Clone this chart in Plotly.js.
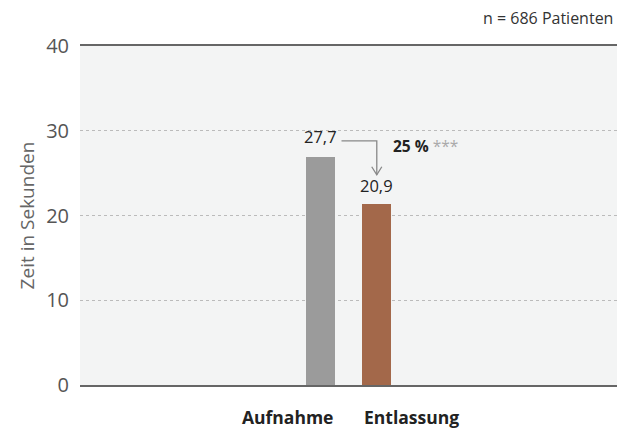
<!DOCTYPE html>
<html><head><meta charset="utf-8">
<script src="https://cdn.plot.ly/plotly-3.0.1.min.js"></script>
<style>html,body{margin:0;padding:0;background:#fff}#c{width:617px;height:430px}</style>
</head><body><div id="c"></div>
<script>
const categories = ["Aufnahme", "Entlassung"];
const barValues = [26.9, 21.4];
const valueLabels = ["27,7", "20,9"];
const barColors = ["#9b9b9b", "#a3684a"];
const changeLabel = "25 %";
const significance = "***";
const noteText = "n = 686 Patienten";
const yTicks = [0, 10, 20, 30, 40];

const xs = [1, 2];
const bw = 0.52;
const font = "Open Sans, sans-serif";

const trace = {
  type: "bar", x: xs, y: barValues, width: bw,
  marker: {color: barColors}, hoverinfo: "skip"
};

const annotations = [];
valueLabels.forEach((t, i) => annotations.push({
  x: xs[i], y: barValues[i], xref: "x", yref: "y", text: t, showarrow: false,
  yanchor: "bottom", yshift: i === 0 ? 7 : 5, font: {family: font, size: 16.5, color: "#222"}
}));
annotations.push({x: xs[0] + bw/2, y: 0, xref: "x", yref: "y", text: "<b>" + categories[0] + "</b>",
  showarrow: false, xanchor: "right", yanchor: "top", yshift: -18, font: {family: font, size: 17.5, color: "#222"}});
annotations.push({x: xs[1] - bw/2, y: 0, xref: "x", yref: "y", text: "<b>" + categories[1] + "</b>",
  showarrow: false, xanchor: "left", yanchor: "top", yshift: -18, font: {family: font, size: 17.5, color: "#222"}});
annotations.push({x: xs[1] + 0.25, y: 28.2, xref: "x", yref: "y", xanchor: "left", yanchor: "middle", showarrow: false,
  text: "<b>" + changeLabel + "</b> <span style='color:#aaa'>" + significance + "</span>",
  font: {family: font, size: 15.5, color: "#222"}});
annotations.push({x: 1, y: 1, xref: "paper", yref: "paper", showarrow: false, text: noteText,
  xanchor: "right", yanchor: "bottom", xshift: -2, yshift: 15, font: {family: font, size: 16, color: "#333"}});

const yTop = 28.8, yBot = 24.8;
const shapes = [
  {type: "path", xref: "x", yref: "y",
   path: `M ${xs[0]+0.37} ${yTop} L ${xs[1]} ${yTop} L ${xs[1]} ${yBot}`,
   line: {color: "#888", width: 1.3}},
  {type: "path", xref: "x", yref: "y",
   path: `M ${xs[1]-0.09} ${yBot+0.95} L ${xs[1]} ${yBot} L ${xs[1]+0.09} ${yBot+0.95}`,
   line: {color: "#888", width: 1.3}}
];

const layout = {
  width: 617, height: 430,
  margin: {l: 80, r: 0, t: 46, b: 45},
  paper_bgcolor: "#fff", plot_bgcolor: "#f3f4f4",
  showlegend: false, bargap: 0,
  xaxis: {range: [-3.30, 6.29], showticklabels: false, showgrid: false, zeroline: false,
          showline: true, mirror: true, linecolor: "#666", linewidth: 2, ticks: "", fixedrange: true},
  yaxis: {range: [0, 40], tickvals: yTicks, showgrid: true, gridcolor: "#bbbbbb", griddash: "dot", gridwidth: 1,
          zeroline: false, showline: false, ticks: "", ticklabelstandoff: 10,
          tickfont: {family: font, size: 20, color: "#555"},
          title: {text: "Zeit in Sekunden", standoff: 6, font: {family: font, size: 19, color: "#666"}}},
  annotations: annotations, shapes: shapes,
  font: {family: font}
};
Plotly.newPlot("c", [trace], layout, {staticPlot: true, displayModeBar: false});
</script></body></html>
